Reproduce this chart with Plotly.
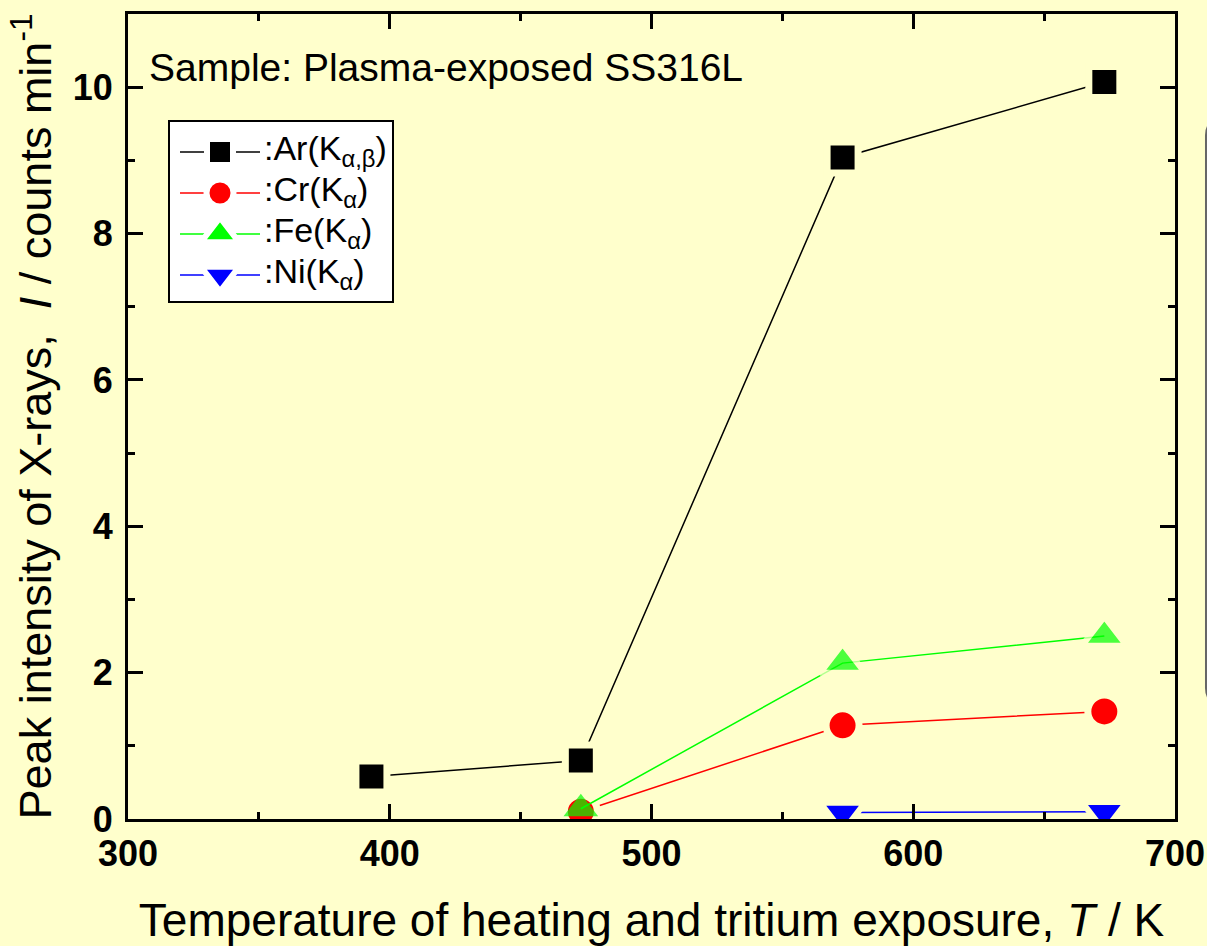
import plotly.graph_objects as go

# Peak intensities of X-rays (counts/min) versus heating / tritium exposure temperature (K)
temp_ar = [393, 473, 573, 673]
ar = [0.58, 0.80, 9.04, 10.07]

temp_cr = [473, 573, 673]
cr = [0.10, 1.28, 1.47]

temp_fe = [473, 573, 673]
fe = [0.14, 2.13, 2.50]

temp_ni = [573, 673]
ni = [0.09, 0.10]

x_ticks = [300, 400, 500, 600, 700]
y_ticks = [0, 2, 4, 6, 8, 10]

labels = [":Ar(K<sub>α,β</sub>)", ":Cr(K<sub>α</sub>)",
          ":Fe(K<sub>α</sub>)", ":Ni(K<sub>α</sub>)"]

BG = "#FFFFCC"
FONT = "Liberation Sans"

series = [
    dict(x=temp_ar, y=ar, color="#000000", symbol="square",
         size=31, gap=7),
    dict(x=temp_cr, y=cr, color="#FF0000", symbol="circle",
         size=33, gap=7),
    dict(x=temp_fe, y=fe, color="#00FF00", symbol="triangle-up",
         size=[30, 39, 39], gap=[0, 6, 6]),
    dict(x=temp_ni, y=ni, color="#0000FF", symbol="triangle-down",
         size=39, gap=6),
]

# legend key symbols: size and white halo width
key_style = [
    dict(size=26, gap=6),
    dict(size=27, gap=6),
    dict(size=33, gap=6),
    dict(size=33, gap=6),
]

fig = go.Figure()

# data traces: a background-coloured marker outline leaves a small gap
# between each connecting line and its symbol
for s in series:
    fig.add_trace(go.Scatter(
        x=s["x"], y=s["y"], mode="lines+markers", showlegend=False,
        line=dict(color=s["color"], width=1.5),
        marker=dict(symbol=s["symbol"], size=s["size"], color=s["color"],
                    line=dict(color=BG, width=s["gap"])),
    ))

# ---- hand-built legend on a hidden overlay axis pair measured in pixels ----
LEG_LEFT, LEG_RIGHT, LEG_TOP, LEG_BOTTOM = 169, 393, 121, 302
ROW0, ROW_STEP = 152, 41
KEY_X0, KEY_X1, TEXT_X = 180, 260, 262

fig.add_shape(
    type="rect", xref="x2", yref="y2", layer="below",
    x0=LEG_LEFT, x1=LEG_RIGHT, y0=LEG_TOP, y1=LEG_BOTTOM,
    fillcolor="white", line=dict(color="black", width=2),
)
for i, (s, k, lab) in enumerate(zip(series, key_style, labels)):
    ry = ROW0 + i * ROW_STEP
    fig.add_trace(go.Scatter(
        x=[KEY_X0, KEY_X1], y=[ry, ry], mode="lines", showlegend=False,
        xaxis="x2", yaxis="y2", hoverinfo="skip",
        line=dict(color=s["color"], width=1.5),
    ))
    fig.add_trace(go.Scatter(
        x=[(KEY_X0 + KEY_X1) / 2], y=[ry], mode="markers", showlegend=False,
        xaxis="x2", yaxis="y2", hoverinfo="skip",
        marker=dict(symbol=s["symbol"], size=k["size"], color=s["color"],
                    line=dict(color="white", width=k["gap"])),
    ))
    fig.add_annotation(
        text=lab, xref="x2", yref="y2", x=TEXT_X, y=ry,
        xanchor="left", yanchor="middle", showarrow=False, yshift=2,
        font=dict(family=FONT, size=34, color="black"),
    )

axis_common = dict(
    showgrid=False, zeroline=False, automargin=False,
    showline=True, linecolor="black", linewidth=3, mirror="ticks",
    ticks="inside", ticklen=15, tickwidth=3, tickcolor="black",
    tickfont=dict(family=FONT, size=36, color="black", weight="bold"),
)

fig.update_layout(
    xaxis=dict(
        range=[300, 700], tickvals=x_ticks, ticktext=[str(v) for v in x_ticks],
        minor=dict(dtick=50, tick0=300, ticks="inside", ticklen=7, tickwidth=3,
                   tickcolor="black"),
        ticklabelstandoff=1,
        title=dict(text="Temperature of heating and tritium exposure, <i>T</i> / K",
                   font=dict(family=FONT, size=46, color="black"), standoff=35),
        **axis_common,
    ),
    yaxis=dict(
        range=[0, 11], tickvals=y_ticks, ticktext=[str(v) for v in y_ticks],
        minor=dict(dtick=1, tick0=0, ticks="inside", ticklen=7, tickwidth=3,
                   tickcolor="black"),
        ticklabelstandoff=5,
        title=dict(text="Peak intensity of X-rays,  <i>I</i> / counts min<sup>-1</sup>",
                   font=dict(family=FONT, size=45, color="black"), standoff=8),
        **axis_common,
    ),
    xaxis2=dict(overlaying="x", range=[128, 1175], visible=False,
                fixedrange=True),
    yaxis2=dict(overlaying="y", range=[819, 14], visible=False,
                fixedrange=True),
)

fig.add_annotation(
    text="Sample: Plasma-exposed SS316L", xref="paper", yref="paper",
    x=0.018, y=0.933, xanchor="left", yanchor="middle", showarrow=False,
    font=dict(family=FONT, size=39, color="black"),
)

# edge of the neighbouring framed panel at the right border
x0, dx, dy = 1.0296, 0.0143, 0.0186
yt, yb = 0.868, 0.144
fig.add_shape(
    type="path", xref="paper", yref="paper",
    path=(f"M{x0 + 0.1},{yt} L{x0 + dx},{yt} Q{x0},{yt} {x0},{yt - dy} "
          f"L{x0},{yb + dy} Q{x0},{yb} {x0 + dx},{yb} L{x0 + 0.1},{yb}"),
    line=dict(color="#666666", width=2),
)

fig.update_layout(
    width=1207, height=946,
    margin=dict(l=128, r=32, t=14, b=127),
    paper_bgcolor=BG, plot_bgcolor=BG,
    font=dict(family=FONT, color="black"),
    showlegend=False,
)

fig.write_html("out.html")
